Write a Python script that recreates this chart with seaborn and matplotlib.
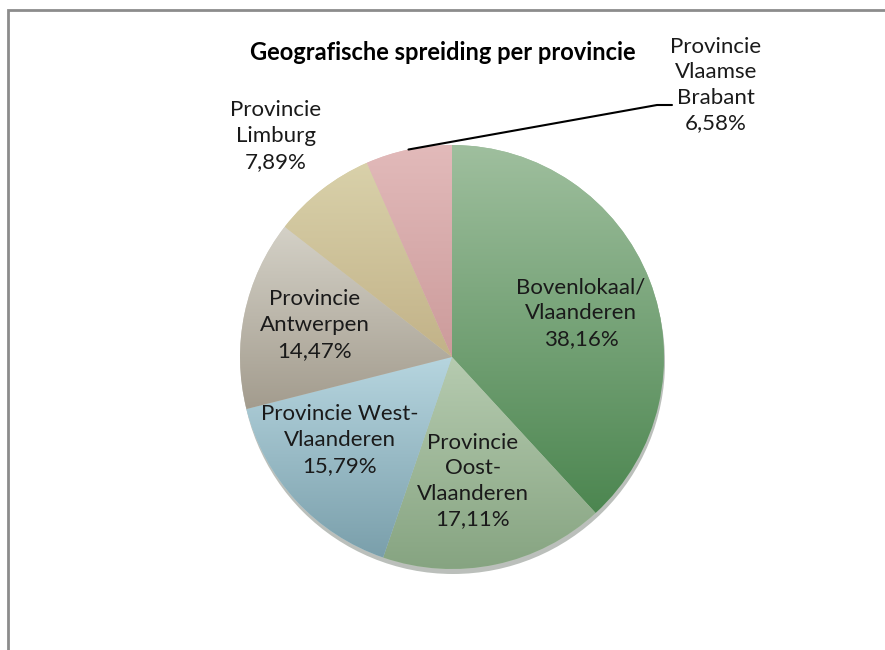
import numpy as np
import matplotlib.pyplot as plt
import seaborn as sns
from matplotlib.colors import LinearSegmentedColormap
from matplotlib.patches import Rectangle, Circle

# data
categorieen = ["Bovenlokaal/\nVlaanderen", "Provincie\nOost-\nVlaanderen",
               "Provincie West-\nVlaanderen", "Provincie\nAntwerpen",
               "Provincie\nLimburg", "Provincie\nVlaamse\nBrabant"]
aantallen = [29, 13, 12, 11, 6, 5]
percentages = ["38,16%", "17,11%", "15,79%", "14,47%", "7,89%", "6,58%"]
kleur_boven = ["#9fbf9e", "#b6cbb0", "#b6d5df", "#d4d1c7", "#d9d1aa", "#e2baba"]
kleur_onder = ["#4c8650", "#86a481", "#7a9fab", "#a39c8e", "#c2b288", "#cc9b9b"]

sns.set_style("white")
plt.rcParams["font.family"] = ["Lato", "DejaVu Sans"]

fig = plt.figure(figsize=(8.85, 6.5), dpi=100)
ax = fig.add_axes([0, 0, 1, 1])
ax.axis("off")

# kader
ax.add_patch(Rectangle((8, -20), 900, 660, fill=False, edgecolor="#8c8c8c", lw=2))

cx, cy, r = 452, 293, 212

# schaduw
ax.add_patch(Circle((cx + 1, cy - 5), r, color="#3c4a3c", alpha=0.35, lw=0))

wedges, _ = ax.pie(aantallen, center=(cx, cy), radius=r, startangle=90,
                   counterclock=False, colors=kleur_boven,
                   wedgeprops=dict(lw=0))
ax.set_xlim(0, 885)
ax.set_ylim(0, 650)
ax.set_aspect("equal")

grad = np.linspace(1, 0, 256).reshape(-1, 1)
for w, c1, c2 in zip(wedges, kleur_boven, kleur_onder):
    bb = w.get_path().get_extents()
    cmap = LinearSegmentedColormap.from_list("g", [c2, c1])
    im = ax.imshow(grad, cmap=cmap, extent=[bb.x0, bb.x1, bb.y0, bb.y1],
                   aspect="auto", origin="upper", zorder=1.5)
    im.set_clip_path(w)

# labels
fs = 16
ls = 1.35
posities = {0: (581, 313), 1: (473, 481), 2: (340, 440), 3: (315, 325)}
for i, (x, y) in posities.items():
    ax.text(x, 650 - y, categorieen[i] + "\n" + percentages[i], ha="center",
            va="center", fontsize=fs, color="#1a1a1a", linespacing=ls, zorder=5)

ax.text(276, 650 - 136, categorieen[4] + "\n" + percentages[4], ha="center",
        va="center", fontsize=fs, color="#1a1a1a", linespacing=ls)
ax.text(716, 650 - 85, categorieen[5] + "\n" + percentages[5], ha="center",
        va="center", fontsize=fs, color="#1a1a1a", linespacing=ls)

# leader lijn
w = wedges[5]
mid = np.deg2rad((w.theta1 + w.theta2) / 2)
x0, y0 = cx + r * np.cos(mid), cy + r * np.sin(mid)
ax.plot([x0, 657, 672], [y0, 650 - 105, 650 - 105], color="black", lw=1.5,
        zorder=6)

ax.text(443, 650 - 53, "Geografische spreiding per provincie", ha="center",
        va="center", fontsize=17, fontweight="bold", color="black")

fig.savefig("out.png", dpi=100)
